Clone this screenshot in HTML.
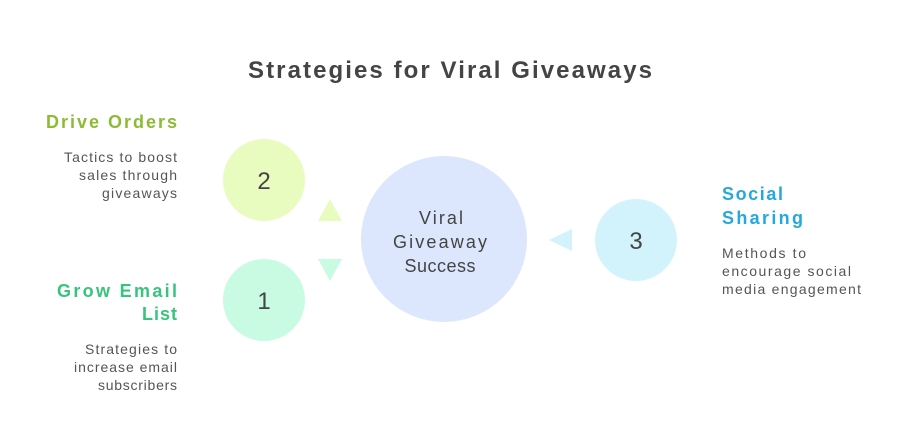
<!DOCTYPE html>
<html><head><meta charset="utf-8"><style>
html,body{margin:0;padding:0;background:#fff;}
svg{display:block;font-family:"Liberation Sans",sans-serif;}
</style></head><body>
<svg width="900" height="444" viewBox="0 0 900 444" xmlns="http://www.w3.org/2000/svg">
<text x="450" y="78" text-anchor="middle" font-size="24" font-weight="bold" fill="#444" textLength="404" lengthAdjust="spacing">Strategies for Viral Giveaways</text>
<circle cx="444" cy="239" r="83" fill="#dce7fd"/>
<circle cx="264" cy="180" r="41" fill="#e8fcc0"/>
<circle cx="264" cy="300" r="41" fill="#c9fbe3"/>
<circle cx="636" cy="240" r="41" fill="#d2f2fc"/>
<polygon points="330,199 342,221 318,221" fill="#e8fcc0"/>
<polygon points="318,259 342,259 330,281" fill="#c9fbe3"/>
<polygon points="549,240 572,229 572,251" fill="#d2f2fc"/>
<g fill="#444" text-anchor="middle" font-size="18">
<text x="441" y="224" textLength="44" lengthAdjust="spacing">Viral</text>
<text x="440" y="248" textLength="94" lengthAdjust="spacing">Giveaway</text>
<text x="440" y="272" textLength="71" lengthAdjust="spacing">Success</text>
</g>
<g fill="#444" text-anchor="middle" font-size="24">
<text x="264" y="189">2</text>
<text x="264" y="309">1</text>
<text x="636" y="249">3</text>
</g>
<g text-anchor="end" font-weight="bold" font-size="18">
<text x="177" y="128" fill="#8dbb34" textLength="131" lengthAdjust="spacing">Drive Orders</text>
<text x="177" y="297" fill="#36c47e" textLength="120" lengthAdjust="spacing">Grow Email</text>
<text x="177" y="320" fill="#36c47e" textLength="35" lengthAdjust="spacing">List</text>
</g>
<g text-anchor="end" font-size="14" fill="#555">
<text x="177" y="162" textLength="113" lengthAdjust="spacing">Tactics to boost</text>
<text x="177" y="180" textLength="98" lengthAdjust="spacing">sales through</text>
<text x="177" y="198" textLength="75" lengthAdjust="spacing">giveaways</text>
<text x="177" y="354" textLength="92" lengthAdjust="spacing">Strategies to</text>
<text x="177" y="372" textLength="103" lengthAdjust="spacing">increase email</text>
<text x="177" y="390" textLength="79" lengthAdjust="spacing">subscribers</text>
</g>
<g font-weight="bold" font-size="18" fill="#25a8dc">
<text x="722" y="200" textLength="61" lengthAdjust="spacing">Social</text>
<text x="722" y="224" textLength="81" lengthAdjust="spacing">Sharing</text>
</g>
<g font-size="14" fill="#555">
<text x="722" y="258" textLength="84" lengthAdjust="spacing">Methods to</text>
<text x="722" y="276" textLength="129" lengthAdjust="spacing">encourage social</text>
<text x="722" y="294" textLength="139" lengthAdjust="spacing">media engagement</text>
</g>
</svg>
</body></html>
